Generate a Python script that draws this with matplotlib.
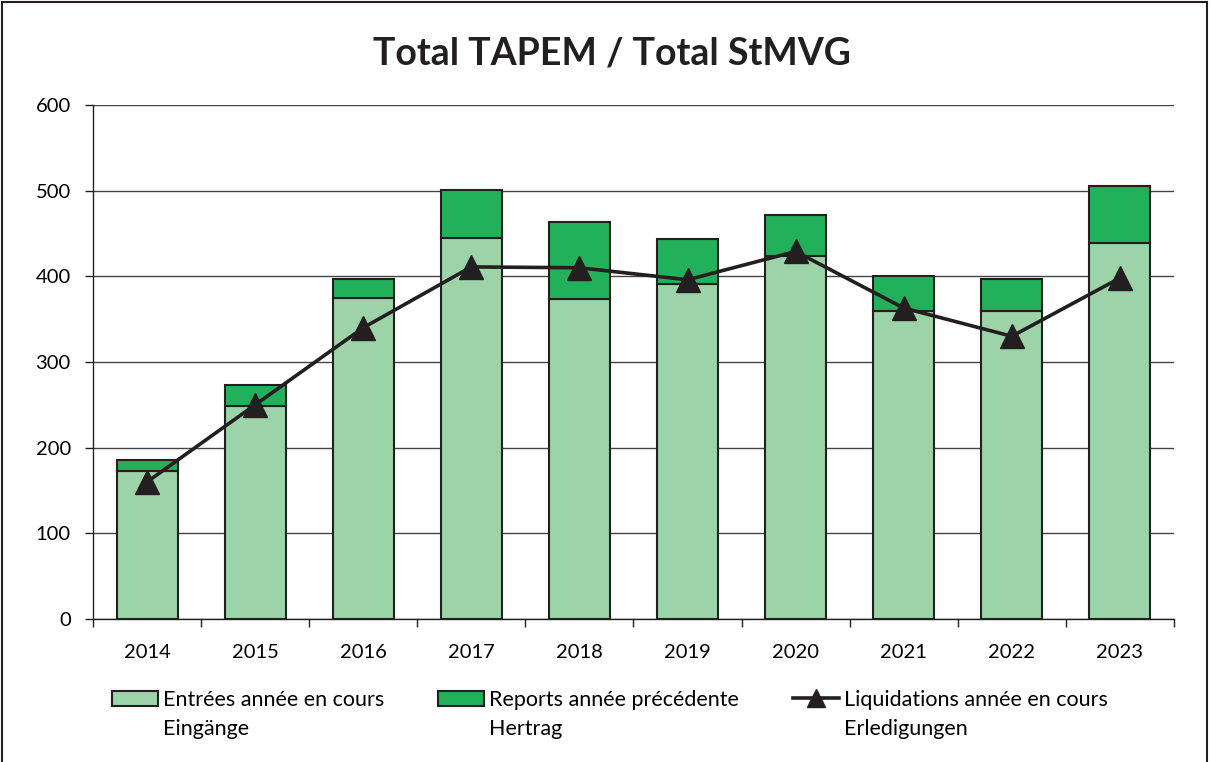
import numpy as np
import matplotlib
matplotlib.use("Agg")
import matplotlib.pyplot as plt
from matplotlib.patches import Patch, Rectangle
from matplotlib.lines import Line2D

plt.rcParams['font.family'] = ['Lato', 'DejaVu Sans']

# data
years = ['2014', '2015', '2016', '2017', '2018', '2019', '2020', '2021', '2022', '2023']
entrees = [173, 249, 375, 445, 373, 391, 424, 359, 360, 439]
reports = [12, 24, 22, 56, 90, 52, 48, 41, 37, 67]
liquidations = [160, 250, 340, 411, 410, 396, 429, 363, 330, 398]

light_green = '#9dd3a8'
dark_green = '#22b05a'
edge = '#231f20'

fig = plt.figure(figsize=(12.11, 7.62), dpi=100)
ax = fig.add_axes([0.0768, 0.1877, 0.8926, 0.6745])

x = np.arange(len(years))
w = 0.565
ax.bar(x, entrees, width=w, color=light_green, edgecolor=edge, linewidth=1.5, zorder=2)
ax.bar(x, reports, width=w, bottom=entrees, color=dark_green, edgecolor=edge,
       linewidth=1.5, zorder=2)
ax.plot(x, liquidations, color=edge, linewidth=2.6, marker='^', markersize=17,
        zorder=3)

ax.set_xlim(-0.5, len(years) - 0.5)
ax.set_ylim(0, 600)
ax.set_yticks(range(0, 601, 100))
ax.yaxis.grid(True, color='#444444', linewidth=1)
ax.set_axisbelow(True)

ax.set_xticks(x)
ax.set_xticklabels(years)
ax.set_xticks(np.arange(-0.5, len(years)), minor=True)
ax.tick_params(axis='x', which='major', length=0, pad=18, labelsize=14.5)
ax.tick_params(axis='x', which='minor', length=6, width=1, color=edge)
ax.tick_params(axis='y', length=6, width=1, color=edge, labelsize=14.5, pad=10)

for s in ['top', 'right']:
    ax.spines[s].set_visible(False)
for s in ['left', 'bottom']:
    ax.spines[s].set_color(edge)
    ax.spines[s].set_linewidth(1)

fig.text(0.505, 0.93, 'Total TAPEM / Total StMVG', ha='center', va='center',
         fontsize=27, fontweight='bold', color=edge)

blank = Patch(visible=False)
handles = [Patch(facecolor=light_green, edgecolor=edge, linewidth=1.5), blank,
           Patch(facecolor=dark_green, edgecolor=edge, linewidth=1.5), blank,
           Line2D([], [], color=edge, linewidth=2.6, marker='^', markersize=13), blank]
labels = ['Entrées année en cours', 'Eingänge',
          'Reports année précédente', 'Hertrag',
          'Liquidations année en cours', 'Erledigungen']
fig.legend(handles, labels, ncol=3, loc='upper left', bbox_to_anchor=(0.0925, 0.095),
           frameon=False, fontsize=15.5, handlelength=2.14, handletextpad=0.23,
           columnspacing=2.5, labelspacing=0.45, borderaxespad=0, borderpad=0)

fig.patches.append(Rectangle((0.002, -0.01), 0.995, 1.0075, transform=fig.transFigure,
                             fill=False, edgecolor=edge, linewidth=1.5))

fig.savefig('out.png', dpi=100)
